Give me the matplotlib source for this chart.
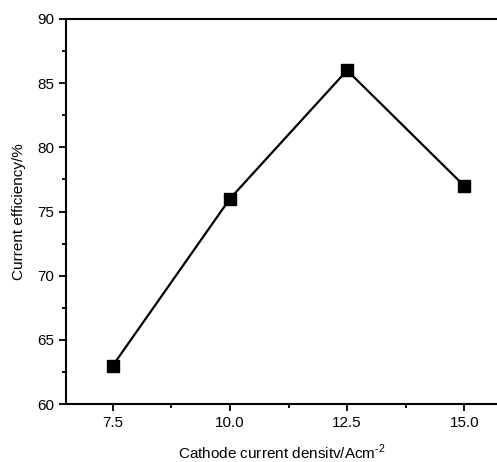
import matplotlib
matplotlib.use("Agg")
import matplotlib.pyplot as plt
from matplotlib.ticker import MultipleLocator

# data
density = [7.5, 10.0, 12.5, 15.0]
efficiency = [63, 76, 86, 77]

plt.rcParams['font.family'] = ['Liberation Sans', 'DejaVu Sans']
plt.rcParams['mathtext.fontset'] = 'custom'
plt.rcParams['mathtext.rm'] = 'Liberation Sans'

fig = plt.figure(figsize=(4.97, 4.62), dpi=100)
ax = fig.add_axes([66/497, 58/462, 1 - 66/497, 385/462])

ax.plot(density, efficiency, color='k', lw=1.6, marker='s', ms=8.5,
	mfc='k', mec='k')

ax.set_xlim(6.5, 15.7)
ax.set_ylim(60, 90)
ax.xaxis.set_minor_locator(MultipleLocator(1.25))
ax.yaxis.set_major_locator(MultipleLocator(5))
ax.yaxis.set_minor_locator(MultipleLocator(2.5))
ax.set_xticks([7.5, 10.0, 12.5, 15.0])
ax.set_xticklabels(['7.5', '10.0', '12.5', '15.0'])

for s in ['left', 'bottom', 'top']:
	ax.spines[s].set_linewidth(1.5)
ax.spines['right'].set_visible(False)
ax.tick_params(which='both', direction='out', width=1.3, labelsize=11)
ax.tick_params(which='major', length=5)
ax.tick_params(which='minor', length=3)
ax.tick_params(top=False, right=False, which='both')

ax.set_xlabel(r'Cathode current densitv/Acm$^{\text{-2}}$', fontsize=11, labelpad=9)
ax.set_ylabel('Current efficiency/%', fontsize=11, labelpad=8)

fig.savefig('out.png', dpi=100)
